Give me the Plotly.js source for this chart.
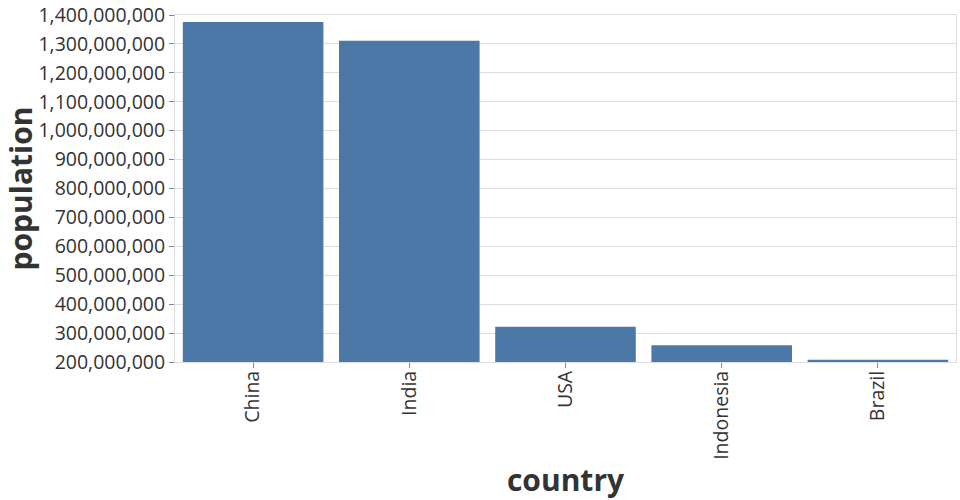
<!DOCTYPE html>
<html>
<head>
<meta charset="utf-8">
<script src="https://cdn.plot.ly/plotly-3.0.1.min.js"></script>
<style>html,body{margin:0;padding:0;background:#fff;}#chart{width:960px;height:500px;}</style>
</head>
<body>
<div id="chart"></div>
<script>
const countries = ["China", "India", "USA", "Indonesia", "Brazil"];
const population = [1376048943, 1311050527, 321773631, 257563815, 207847528];
const yTicks = [200000000, 300000000, 400000000, 500000000, 600000000, 700000000, 800000000,
  900000000, 1000000000, 1100000000, 1200000000, 1300000000, 1400000000];

const font = "'Open Sans', 'Noto Sans', sans-serif";

Plotly.newPlot('chart', [{
  type: 'bar',
  x: countries,
  y: population,
  marker: {color: '#4c78a8', line: {width: 0}},
  hoverinfo: 'x+y'
}], {
  width: 960, height: 500,
  margin: {l: 175, r: 4, t: 15, b: 138},
  paper_bgcolor: '#fff', plot_bgcolor: '#fff',
  bargap: 0.1,
  font: {family: font, color: '#333'},
  xaxis: {
    type: 'category',
    tickangle: -90,
    tickfont: {size: 19.5, color: '#333', family: font},
    ticks: 'outside', ticklen: 5, tickcolor: '#888',
    ticklabelstandoff: -5,
    showline: true, linecolor: '#ddd', mirror: true,
    showgrid: false,
    title: {text: 'country', font: {size: 30, weight: 'bold', color: '#333', family: font}, standoff: 15}
  },
  yaxis: {
    range: [200000000, 1400000000],
    tickvals: yTicks,
    tickformat: ',d',
    tickfont: {size: 19.5, color: '#333', family: font},
    ticks: 'outside', ticklen: 5, tickcolor: '#888',
    showline: true, linecolor: '#ddd', mirror: true,
    gridcolor: '#ddd', zeroline: false,
    title: {text: 'population', font: {size: 30, weight: 'bold', color: '#333', family: font}, standoff: 8}
  },
  showlegend: false
}, {displayModeBar: false, staticPlot: true});
</script>
</body>
</html>
